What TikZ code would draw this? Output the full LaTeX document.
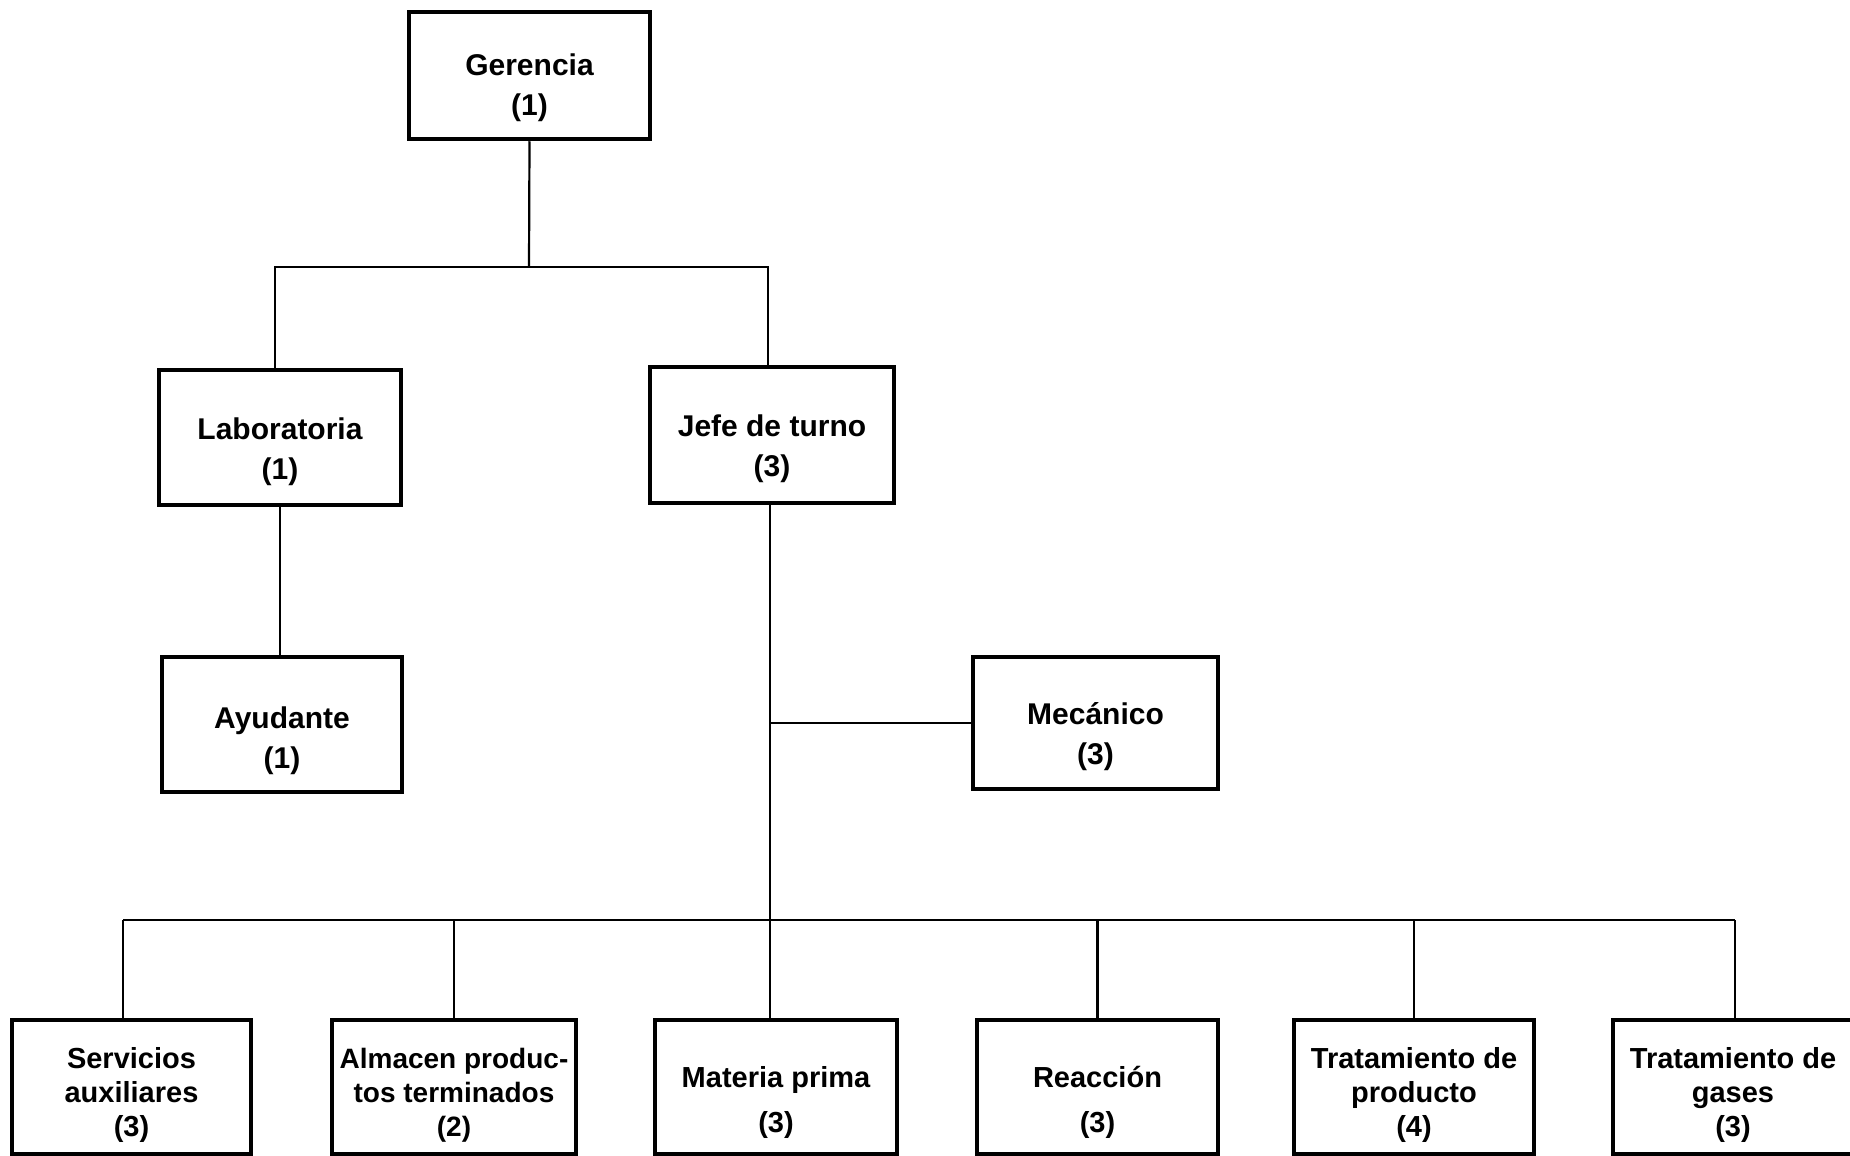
\documentclass[tikz,border=0pt]{standalone}
\usepackage{fontspec}
\setmainfont{Liberation Sans}
\begin{document}
\begin{tikzpicture}[x=1pt,y=-1pt,
  box/.style={draw, line width=4.5pt, rectangle, inner sep=0pt},
  lbl/.style={font=\bfseries\fontsize{30}{40}\selectfont, align=center, inner sep=0pt},
  lblb/.style={font=\bfseries\fontsize{29}{34}\selectfont, align=center, inner sep=0pt},
  lblc/.style={font=\bfseries\fontsize{29}{45}\selectfont, align=center, inner sep=0pt},
  conn/.style={line width=2.2pt}]
\useasboundingbox[fill=white] (0,0) rectangle (1850,1156);

% boxes
\node[box, minimum width=241pt, minimum height=127pt] (ger) at (529.5,75.5) {};
\node[box, minimum width=242pt, minimum height=135pt] (lab) at (280,437.5) {};
\node[box, minimum width=244pt, minimum height=136pt] (jefe) at (772,435) {};
\node[box, minimum width=240pt, minimum height=135pt] (ayu) at (282,724.5) {};
\node[box, minimum width=245pt, minimum height=132pt] (mec) at (1095.5,723) {};
\node[box, minimum width=239pt, minimum height=134pt] (b1) at (131.5,1087) {};
\node[box, minimum width=244pt, minimum height=134pt] (b2) at (454,1087) {};
\node[box, minimum width=242pt, minimum height=134pt] (b3) at (776,1087) {};
\node[box, minimum width=241pt, minimum height=134pt] (b4) at (1097.5,1087) {};
\node[box, minimum width=240pt, minimum height=134pt] (b5) at (1414,1087) {};
\node[box, minimum width=240pt, minimum height=134pt] (b6) at (1733,1087) {};

% texts
\node[lbl] (gerT) at ([yshift=-12pt]ger.center) {Gerencia\\(1)};
\node[lbl] (labT) at ([yshift=-14pt]lab.center) {Laboratoria\\(1)};
\node[lbl] (jefeT) at ([yshift=-14pt]jefe.center) {Jefe de turno\\(3)};
\node[lbl] (ayuT) at ([yshift=-16pt]ayu.center) {Ayudante\\(1)};
\node[lbl] (mecT) at ([yshift=-14pt]mec.center) {Mecánico\\(3)};
\node[lblb] (b1T) at ([yshift=-8pt]b1.center) {Servicios\\auxiliares\\(3)};
\node[lblb, font=\bfseries\fontsize{28}{34}\selectfont] (b2T) at ([yshift=-8pt]b2.center) {Almacen produc-\\tos terminados\\(2)};
\node[lblc] (b3T) at ([yshift=-15pt]b3.center) {Materia prima\\(3)};
\node[lblc] (b4T) at ([yshift=-15pt]b4.center) {Reacción\\(3)};
\node[lblb] (b5T) at ([yshift=-8pt]b5.center) {Tratamiento de\\producto\\(4)};
\node[lblb] (b6T) at ([yshift=-8pt]b6.center) {Tratamiento de\\gases\\(3)};

% connector points
\coordinate (tb) at (529,267);
\coordinate (tl) at (275,267);
\coordinate (tr) at (768,267);
\coordinate (trunk) at (770,920);
\coordinate (bl) at (123,920);
\coordinate (br) at (1735,920);

% connectors
\draw[conn] (ger.south) -- (tb);
\draw[conn] (tl |- lab.north) -- (tl) -- (tr) -- (tr |- jefe.north);
\draw[conn] (lab.south) -- (lab.south |- ayu.north);
\draw[conn] (jefe.south -| trunk) -- (trunk);
\draw[conn] (mec.west) -- (mec.west -| trunk);
\draw[conn] (bl) -- (br);
\draw[conn] (bl) -- (bl |- b1.north);
\draw[conn] (b2.north) -- (b2.north |- bl);
\draw[conn] (trunk) -- (trunk |- b3.north);
\draw[conn] (b4.north) -- (b4.north |- bl);
\draw[conn] (b5.north) -- (b5.north |- bl);
\draw[conn] (br) -- (br |- b6.north);
\end{tikzpicture}
\end{document}
